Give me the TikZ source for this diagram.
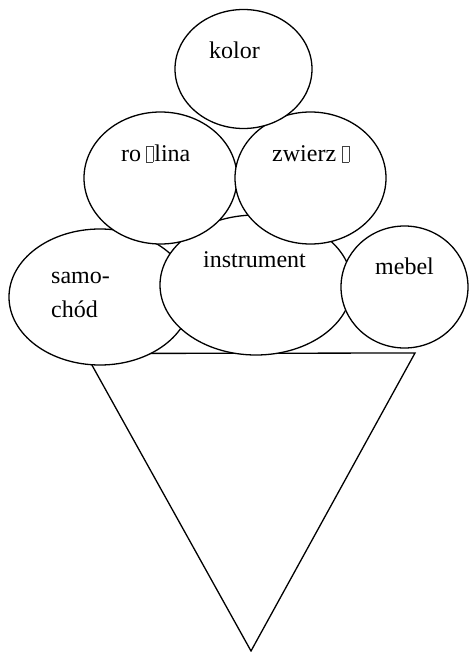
\documentclass[tikz,border=0pt]{standalone}
\usepackage{fontspec}
\setmainfont{Liberation Serif}
\usetikzlibrary{shapes.geometric}
\newcommand\mbx[1]{\hspace{#1}{\color{black!75}\fboxsep0pt\fboxrule0.6pt\fbox{\rule{0pt}{15.5pt}\hspace{6pt}}}\hspace{1pt}}
\tikzset{
  blob/.style={ellipse, draw=black, fill=white, line width=1.3pt, inner sep=0pt},
  txt/.style={inner sep=0pt, anchor=base west, font=\fontsize{24}{34}\selectfont, align=left},
  cone/.style={draw=black, line width=1.3pt, line join=miter}
}
\begin{document}
\begin{tikzpicture}[x=1pt,y=-1pt]
\useasboundingbox (0,0) rectangle (469,652);
% cone
\coordinate (c1) at (85.5,353.5);
\coordinate (c2) at (415,353);
\coordinate (c3) at (251,651);
\draw[cone] (c1) -- (c2) -- (c3) -- cycle;
% scoops, back to front
\node[blob, minimum width=182pt, minimum height=136pt] (samochod) at (100,297) {};
\node[blob, minimum width=192pt, minimum height=140pt] (instrument) at (256,285) {};
\node[blob, minimum width=127pt, minimum height=122pt] (mebel) at (404.5,287) {};
\node[blob, minimum width=153pt, minimum height=132pt] (roslina) at (160.5,178) {};
\node[blob, minimum width=151pt, minimum height=132pt] (zwierze) at (310.5,178) {};
\node[blob, minimum width=137pt, minimum height=119pt] (kolor) at (243.5,69) {};
% labels
\node[txt] (tkolor) at (209,59) {kolor};
\node[txt] (troslina) at (121,162) {ro\mbx{5pt}lina};
\node[txt] (tzwierze) at (272,162) {zwierz\mbx{6pt}};
\node[txt] (tinstrument) at (203,267) {instrument};
\node[txt] (tsamochod) at (51,317) {samo-\\chód};
\node[txt] (tmebel) at (375,274) {mebel};
\end{tikzpicture}
\end{document}
